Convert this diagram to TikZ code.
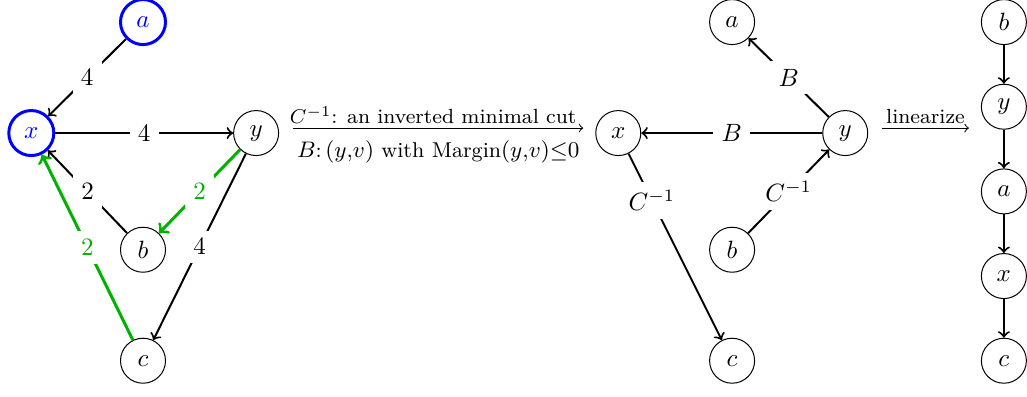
\documentclass[tikz,border=0pt]{standalone}
\usetikzlibrary{calc}

\begin{document}
\begin{tikzpicture}[
  vert/.style={circle,draw,minimum size=18pt,inner sep=0pt},
  marked/.style={vert,draw=blue,text=blue,very thick},
  edge/.style={->,thick},
  cut/.style={->,very thick,draw=cutgreen},
  wt/.style={fill=white,midway},
  stage/.style={->,line width=0.4pt},
  note/.style={font=\fontsize{8.2}{10}\selectfont,inner sep=1.5pt},
]
\colorlet{cutgreen}{green!70!black}
\useasboundingbox (0,0) rectangle (14.435,-5.566);
% original graph
\node[marked] (a) at (2.01,-0.31) {$a$};
\node[marked] (x) at (0.44,-1.87) {$x$};
\node[vert] (y) at (3.60,-1.87) {$y$};
\node[vert] (b) at (2.01,-3.51) {$b$};
\node[vert] (c) at (2.01,-5.07) {$c$};
\draw[edge] (a) -- node[wt] {$4$} (x);
\draw[edge] (x) -- node[wt] {$4$} (y);
\draw[edge] (b) -- node[wt] {$2$} (x);
\draw[edge] (y) -- node[wt] {$4$} (c);
\draw[cut] (y) -- node[wt,text=cutgreen] {$2$} (b);
\draw[cut] (c) -- node[wt,text=cutgreen] {$2$} (x);
% inverted graph
\node[vert] (ia) at (10.29,-0.31) {$a$};
\node[vert] (ix) at (8.69,-1.87) {$x$};
\node[vert] (iy) at (11.88,-1.87) {$y$};
\node[vert] (ib) at (10.29,-3.51) {$b$};
\node[vert] (ic) at (10.29,-5.07) {$c$};
\draw[edge] (iy) -- node[wt] {$B$} (ia);
\draw[edge] (iy) -- node[wt] {$B$} (ix);
\draw[edge] (ib) -- node[wt] {$C^{-1}$} (iy);
\draw[edge] (ix) -- node[wt,pos=0.25] {$C^{-1}$} (ic);
% linear order
\node[vert] (lb) at (14.11,-0.31) {$b$};
\node[vert] (ly) at (14.11,-1.50) {$y$};
\node[vert] (la) at (14.11,-2.69) {$a$};
\node[vert] (lx) at (14.11,-3.88) {$x$};
\node[vert] (lc) at (14.11,-5.07) {$c$};
\foreach \s/\t in {lb/ly,ly/la,la/lx,lx/lc}{\draw[edge] (\s) -- (\t);}
% steps
\draw[stage] ($(y.east)+(5.6pt,2pt)$) --
  node[note,above,xshift=-2pt] {$C^{-1}$: an inverted minimal cut}
  node[note,below=3.5pt,font=\fontsize{8.6}{10}\selectfont]
    {$B$:\,$(y{,}v)$ with Margin$(y{,}v){\leq}0$}
  ($(ix.west)+(-4.8pt,2pt)$);
\draw[stage] ($(iy.east)+(5.6pt,2pt)$) -- node[note,above] {linearize}
  ($(iy.east -| ly.west)+(-4.8pt,2pt)$);
\end{tikzpicture}
\end{document}
